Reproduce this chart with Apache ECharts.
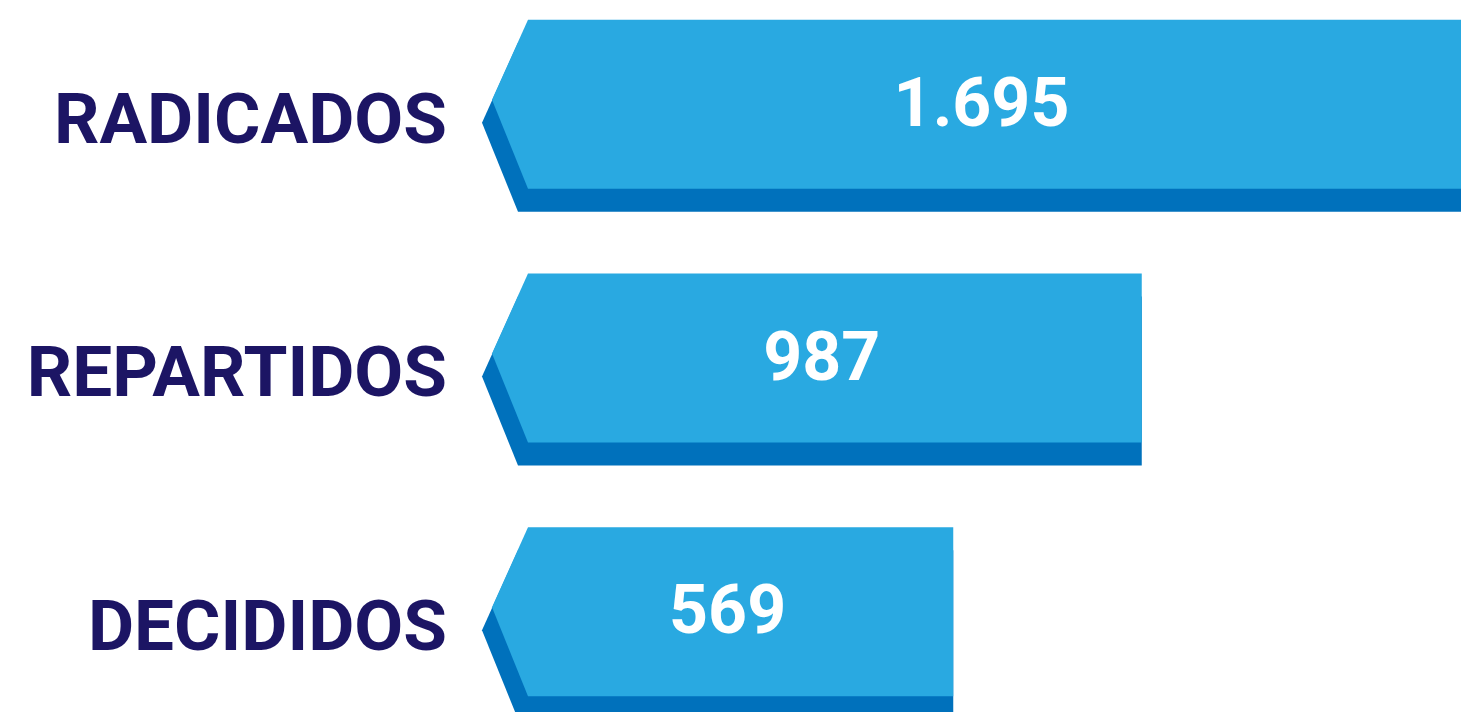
<!DOCTYPE html>
<html>
<head>
<meta charset="utf-8">
<script src="https://cdn.jsdelivr.net/npm/echarts@6/dist/echarts.min.js"></script>
<style>
  html, body { margin: 0; padding: 0; background: #fff; }
  #chart { width: 1461px; height: 712px; }
</style>
</head>
<body>
<div id="chart"></div>
<script>
const categories = ['RADICADOS', 'REPARTIDOS', 'DECIDIDOS']
const values = [1695, 987, 569]

// axis range (infographic bars are not drawn from zero)
const axisMin = -374
const axisMax = 1695

const colors = ['#29A9E1', '#0071BC', '#1C1564']

function fmt(v) {
  return String(v).replace(/\B(?=(\d{3})+(?!\d))/g, '.')
}

const chart = echarts.init(document.getElementById('chart'))

function renderBar(params, api) {
  const idx = api.value(1)
  const start = api.coord([axisMin, idx])
  const end = api.coord([api.value(0), idx])
  const x0 = start[0]
  const x1 = end[0]
  const top = start[1] - 96
  const h = 169
  const tip = 36
  const tipY = 80
  const dx = -10
  const dy = 23
  const face = [
    [x0, top], [x1, top], [x1, top + h], [x0, top + h], [x0 - tip, top + tipY],
  ]
  const shade = [
    [x0 + dx, top + dy], [x1, top + dy], [x1, top + h + dy], [x0 + dx, top + h + dy], [x0 - tip + dx, top + tipY + dy],
  ]
  return {
    type: 'group',
    children: [
      { type: 'polygon', shape: { points: shade }, style: { fill: colors[1] } },
      { type: 'polygon', shape: { points: face }, style: { fill: colors[0] } },
      {
        type: 'text',
        style: {
          text: fmt(api.value(0)),
          x: (x0 - tip + 10 + x1) / 2,
          y: top + 89,
          align: 'center',
          verticalAlign: 'middle',
          fill: '#fff',
          font: 'bold 68px Roboto, "Liberation Sans", sans-serif',
        },
      },
    ],
  }
}

chart.setOption({
  animation: false,
  grid: { left: 528, right: 0, top: -11, height: 761, outerBoundsMode: 'none', containLabel: false },
  xAxis: {
    type: 'value',
    min: axisMin,
    max: axisMax,
    show: false,
  },
  yAxis: {
    type: 'category',
    data: categories,
    inverse: true,
    axisLine: { show: false },
    axisTick: { show: false },
    splitLine: { show: false },
    axisLabel: {
      margin: 81,
      formatter: '{a|{value}}',
      rich: {
        a: {
          color: colors[2],
          fontSize: 71,
          lineHeight: 71,
          fontWeight: 'bold',
          fontFamily: 'Roboto, "Liberation Sans", sans-serif',
          padding: [18, 0, 0, 0],
        },
      },
    },
  },
  series: [{
    type: 'custom',
    clip: false,
    renderItem: renderBar,
    encode: { x: 0, y: 1 },
    data: values.map((v, i) => [v, i]),
  }],
})
</script>
</body>
</html>
